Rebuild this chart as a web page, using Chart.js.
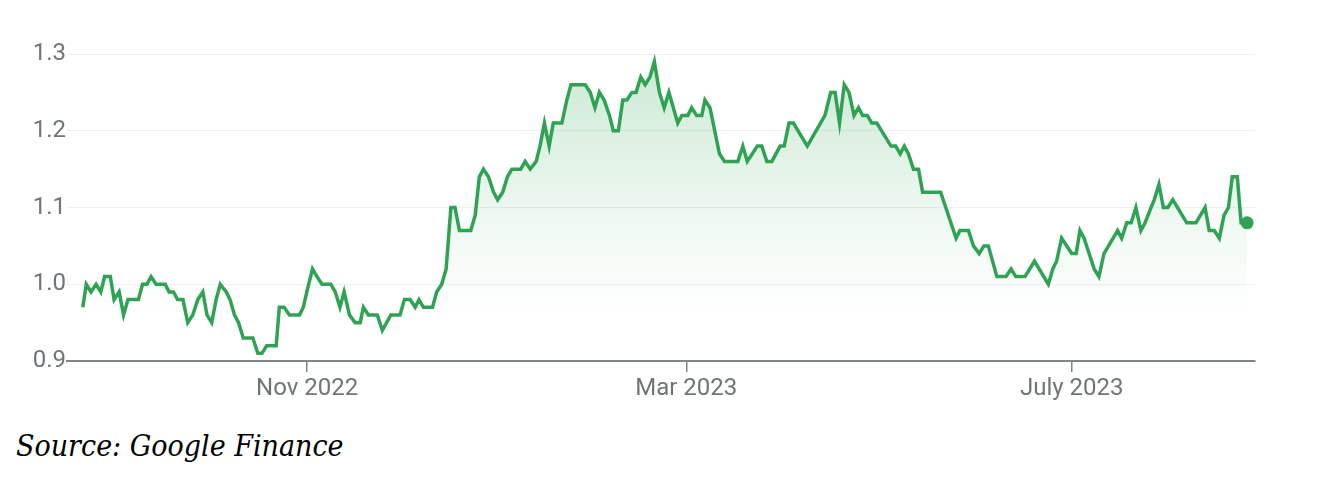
<!DOCTYPE html>
<html>
<head>
<meta charset="utf-8">
<script src="https://cdn.jsdelivr.net/npm/chart.js@4.4.0/dist/chart.umd.min.js"></script>
<style>
  body { margin: 0; background: #fff; width: 1318px; height: 478px; overflow: hidden; position: relative; }
  #wrap { position: absolute; left: 0; top: 0; width: 1318px; height: 420px; }
  #source { position: absolute; left: 16px; top: 428px; font-family: "DejaVu Serif Condensed", "DejaVu Serif", serif; font-stretch: condensed; font-style: italic; font-size: 30px; color: #000; }
</style>
</head>
<body>
<div id="wrap"><canvas id="myChart"></canvas></div>
<div id="source">Source: Google Finance</div>
<script>
// dias contados desde el 1 nov 2022
const days = [-71.0, -69.9, -68.4, -66.8, -65.3, -64.1, -62.3, -61.1, -59.5, -58.1, -56.7, -53.4, -52.1, -50.7, -49.4, -47.8,
  -44.9, -43.7, -42.3, -41.0, -39.3, -37.8, -36.2, -34.6, -33.0, -31.7, -30.2, -28.8, -27.5, -25.6, -24.4, -23.0, -21.7,
  -20.2, -17.2, -15.6, -14.3, -12.8, -9.8, -8.8, -7.3, -5.6, -2.4, -1.2, -0.1, 1.7, 3.1, 4.7, 7.5, 8.9, 10.4, 11.7, 13.4,
  15.2, 16.8, 17.8, 19.4, 22.2, 23.8, 26.5, 29.4, 30.8, 32.6, 34.2, 35.4, 36.8, 39.7, 41.0, 42.6, 44.0, 45.5, 46.8, 48.2,
  51.8, 53.2, 54.5, 55.8, 57.4, 59.0, 60.3, 61.9, 63.4, 64.8, 67.6, 69.0, 70.6, 72.5, 73.7, 75.1, 76.6, 77.9, 80.6, 82.2,
  83.5, 88.0, 89.6, 91.1, 92.5, 94.0, 95.7, 96.9, 98.5, 99.9, 101.2, 102.8, 104.1, 105.6, 107.0, 108.5, 109.9, 111.5,
  113.0, 114.5, 117.3, 118.6, 120.5, 121.7, 123.3, 124.9, 125.9, 127.5, 130.5, 132.1, 136.3, 137.9, 139.3, 142.5, 143.9,
  145.5, 147.1, 149.7, 151.0, 152.5, 153.9, 158.3, 163.9, 165.7, 167.1, 168.5, 170.0, 171.5, 173.1, 174.5, 175.8, 177.3,
  178.7, 180.3, 184.8, 186.3, 187.7, 189.0, 190.3, 191.9, 193.5, 194.8, 200.5, 205.4, 206.6, 209.3, 210.9, 212.7, 214.2,
  215.6, 218.3, 221.2, 222.8, 224.3, 227.2, 230.2, 234.6, 236.0, 237.2, 238.8, 242.0, 243.4, 244.6, 245.9, 249.1, 250.6,
  252.2, 256.5, 257.8, 259.4, 260.8, 262.3, 263.9, 265.2, 267.1, 268.1, 269.6, 271.0, 272.4, 274.0, 278.4, 281.3, 284.2,
  285.5, 287.1, 288.7, 290.2, 291.6, 292.8, 294.4, 295.6, 297.5];

const prices = [0.97, 1.00, 0.99, 1.00, 0.99, 1.01, 1.01, 0.98, 0.99, 0.96, 0.98, 0.98, 1.00, 1.00, 1.01, 1.00,
  1.00, 0.99, 0.99, 0.98, 0.98, 0.95, 0.96, 0.98, 0.99, 0.96, 0.95, 0.98, 1.00, 0.99, 0.98, 0.96, 0.95,
  0.93, 0.93, 0.91, 0.91, 0.92, 0.92, 0.97, 0.97, 0.96, 0.96, 0.97, 0.99, 1.02, 1.01, 1.00, 1.00, 0.99, 0.97, 0.99, 0.96,
  0.95, 0.95, 0.97, 0.96, 0.96, 0.94, 0.96, 0.96, 0.98, 0.98, 0.97, 0.98, 0.97, 0.97, 0.99, 1.00, 1.02, 1.10, 1.10, 1.07,
  1.07, 1.09, 1.14, 1.15, 1.14, 1.12, 1.11, 1.12, 1.14, 1.15, 1.15, 1.16, 1.15, 1.16, 1.18, 1.21, 1.18, 1.21, 1.21, 1.24,
  1.26, 1.26, 1.25, 1.23, 1.25, 1.24, 1.22, 1.20, 1.20, 1.24, 1.24, 1.25, 1.25, 1.27, 1.26, 1.27, 1.29, 1.25,
  1.23, 1.25, 1.21, 1.22, 1.22, 1.23, 1.22, 1.22, 1.24, 1.23, 1.17, 1.16, 1.16, 1.18, 1.16, 1.18, 1.18,
  1.16, 1.16, 1.18, 1.18, 1.21, 1.21, 1.18, 1.22, 1.25, 1.25, 1.21, 1.26, 1.25, 1.22, 1.23, 1.22, 1.22,
  1.21, 1.21, 1.18, 1.18, 1.17, 1.18, 1.17, 1.15, 1.15, 1.12, 1.12, 1.06, 1.07, 1.07, 1.05, 1.04, 1.05,
  1.05, 1.01, 1.01, 1.02, 1.01, 1.01, 1.03, 1.00, 1.02, 1.03, 1.06, 1.04, 1.04, 1.07, 1.06, 1.02, 1.01,
  1.04, 1.07, 1.06, 1.08, 1.08, 1.10, 1.07, 1.08, 1.10, 1.11, 1.13, 1.10, 1.10, 1.11, 1.08, 1.08, 1.10,
  1.07, 1.07, 1.06, 1.09, 1.10, 1.14, 1.14, 1.08, 1.08];

// ticks del eje x
const tickDays = [0, 120, 242];
const tickLabels = ['Nov 2022', 'Mar 2023', 'July 2023'];
const yTicks = [0.9, 1.0, 1.1, 1.2, 1.3];

const points = days.map(function(d, i){ return { x: d, y: prices[i] }; });
const lastIndex = points.length - 1;

const green = '#2fa353';

// setup
const data = {
  datasets: [{
    data: points,
    borderColor: green,
    borderWidth: 3.5,
    tension: 0,
    fill: 'origin',
    backgroundColor: function(context){
      const area = context.chart.chartArea;
      if (!area) return 'rgba(52,168,83,0.1)';
      const g = context.chart.ctx.createLinearGradient(0, area.top, 0, area.bottom);
      g.addColorStop(0, 'rgba(52,168,83,0.26)');
      g.addColorStop(0.55, 'rgba(52,168,83,0.07)');
      g.addColorStop(0.85, 'rgba(52,168,83,0)');
      return g;
    },
    pointRadius: function(ctx){ return ctx.dataIndex === lastIndex ? 6.5 : 0; },
    pointBackgroundColor: green,
    pointBorderWidth: 0,
    pointHoverRadius: 0
  }]
};

// config
const config = {
  type: 'line',
  data,
  options: {
    responsive: true,
    maintainAspectRatio: false,
    animation: false,
    layout: { padding: { top: 54, right: 63, left: 0, bottom: 0 } },
    plugins: { legend: { display: false }, tooltip: { enabled: false } },
    scales: {
      x: {
        type: 'linear',
        min: -76,
        max: 300,
        afterBuildTicks: function(scale){
          scale.ticks = tickDays.map(function(v){ return { value: v }; });
        },
        afterFit: function(scale){ scale.height = 59; },
        ticks: {
          autoSkip: false,
          maxRotation: 0,
          padding: 3,
          color: '#70757a',
          font: { family: 'Roboto, "Liberation Sans", sans-serif', size: 24 },
          callback: function(value){
            const i = tickDays.indexOf(value);
            return i >= 0 ? tickLabels[i] : '';
          }
        },
        grid: { drawOnChartArea: false, drawTicks: true, tickLength: 11, color: '#80868b', lineWidth: 1.5 },
        border: { display: true, color: '#80868b', width: 2 }
      },
      y: {
        min: 0.9,
        max: 1.3,
        afterBuildTicks: function(scale){
          scale.ticks = yTicks.map(function(v){ return { value: v }; });
        },
        afterFit: function(scale){ scale.width = 67; },
        ticks: {
          padding: 1,
          color: '#70757a',
          font: { family: 'Roboto, "Liberation Sans", sans-serif', size: 24 },
          callback: function(value){ return value.toFixed(1); }
        },
        grid: { color: '#f0f0f0', lineWidth: 1, drawTicks: false },
        border: { display: false }
      }
    }
  }
};

// render init block
const myChart = new Chart(document.getElementById('myChart'), config);
</script>
</body>
</html>
